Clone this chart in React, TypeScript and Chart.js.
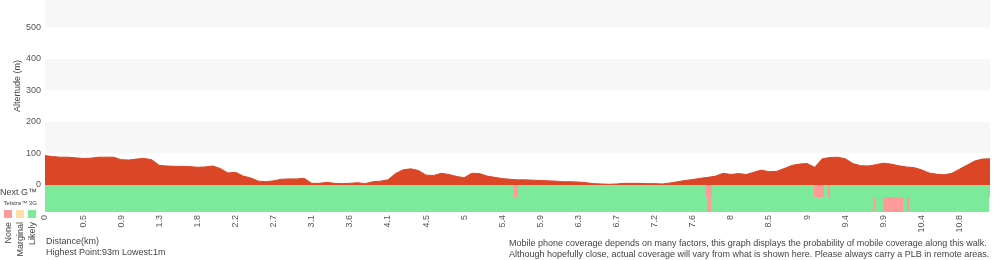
import React, { useEffect, useRef } from 'react';
import { Chart, registerables } from 'chart.js';

Chart.register(...registerables);

const FONT = '"Liberation Sans", Arial, Helvetica, sans-serif';

// Distance tick labels (km), one every `samplesPerTick` samples
const distanceTicks = ['0', '0.5', '0.9', '1.3', '1.8', '2.2', '2.7', '3.1', '3.6', '4.1', '4.5', '5', '5.4', '5.9', '6.3', '6.7', '7.2', '7.6', '8', '8.5', '9', '9.4', '9.9', '10.4', '10.8'];
const samplesPerTick = 5;

// Elevation (m) per sample
const elevation = [
  93, 90, 88, 88, 86, 84, 85, 88, 88, 88,
  80, 79, 82, 84, 80, 62, 60, 59, 59, 58,
  56, 57, 60, 52, 38, 40, 28, 22, 12, 10,
  13, 18, 19, 19, 21, 5, 5, 8, 5, 4,
  5, 7, 4, 10, 12, 16, 36, 48, 51, 46,
  31, 30, 37, 33, 27, 23, 37, 36, 28, 24,
  20, 18, 16, 16, 15, 14, 13, 12, 10, 10,
  9, 7, 4, 3, 2, 3, 5, 5, 5, 4,
  4, 3, 6, 10, 14, 17, 21, 24, 28, 37,
  33, 36, 33, 40, 47, 42, 43, 52, 62, 66,
  68, 56, 83, 87, 88, 83, 68, 61, 60, 64,
  69, 66, 61, 57, 55, 48, 38, 34, 32, 37,
  50, 63, 76, 82, 83,
];

const yTicks = [0, 100, 200, 300, 400, 500];
const shadedBands = [[100, 200], [300, 400], [500, 600]];

// Coverage (in sample units): extents of each row and the stretches with no coverage
const nextGExtent = [0, 124];
const threeGExtent = [0, 123.9];
const nextGNone = [[61.5, 62.1], [86.7, 87.5], [100.9, 102.2], [102.7, 103.0]];
const threeGNone = [[86.9, 87.4], [108.7, 109.0], [110.0, 112.6], [113.1, 113.4]];

// layout / style constants
const Y_MIN = -86;
const Y_MAX = 587;
const ROW_NEXTG = [0, -38];
const ROW_3G = [-38, -86];
const COLORS = {
  elevation: 'rgb(218,70,38)',
  likely: 'rgb(125,234,155)',
  none: 'rgb(255,154,154)',
  marginal: 'rgb(255,224,168)',
  band: '#f7f7f7',
  tick: '#555',
  text: '#444',
};

function rowDataset(range: number[], row: number[], color: string, order: number) {
  return {
    type: 'line' as const,
    data: [
      { x: range[0], y: row[0] },
      { x: range[1], y: row[0] },
    ],
    fill: { value: row[1] },
    backgroundColor: color,
    borderColor: 'transparent',
    borderWidth: 0,
    pointRadius: 0,
    tension: 0,
    order,
  };
}

const bandsPlugin = {
  id: 'bands',
  beforeDatasetsDraw(chart: any) {
    const { ctx, chartArea, scales } = chart;
    const y = scales.y;
    ctx.save();
    ctx.beginPath();
    ctx.rect(chartArea.left, chartArea.top, chartArea.right - chartArea.left, chartArea.bottom - chartArea.top);
    ctx.clip();
    ctx.fillStyle = COLORS.band;
    shadedBands.forEach(([lo, hi]) => {
      const top = y.getPixelForValue(hi);
      const bottom = y.getPixelForValue(lo);
      ctx.fillRect(chartArea.left, top, chartArea.right - chartArea.left, bottom - top);
    });
    ctx.restore();
  },
};

export default function App() {
  const ref = useRef<HTMLCanvasElement>(null);

  useEffect(() => {
    if (!ref.current) return;
    const datasets: any[] = [];
    nextGNone.forEach((r) => datasets.push(rowDataset(r, ROW_NEXTG, COLORS.none, 0)));
    threeGNone.forEach((r) => datasets.push(rowDataset(r, ROW_3G, COLORS.none, 0)));
    datasets.push({
      type: 'line',
      data: elevation.map((v, i) => ({ x: i, y: v })),
      fill: 'origin',
      backgroundColor: COLORS.elevation,
      borderColor: COLORS.elevation,
      borderWidth: 1,
      pointRadius: 0,
      tension: 0,
      order: 1,
    });
    datasets.push(rowDataset(nextGExtent, ROW_NEXTG, COLORS.likely, 2));
    datasets.push(rowDataset(threeGExtent, ROW_3G, COLORS.likely, 2));

    const chart = new Chart(ref.current, {
      type: 'line',
      data: { datasets },
      plugins: [bandsPlugin],
      options: {
        animation: false,
        responsive: false,
        devicePixelRatio: 1,
        events: [],
        layout: { padding: { left: 0, right: 10, top: 0, bottom: 0 } },
        plugins: {
          legend: { display: false },
          tooltip: { enabled: false },
        },
        scales: {
          x: {
            type: 'linear',
            min: 0,
            max: elevation.length - 1,
            grid: { display: false, drawTicks: false },
            border: { display: false },
            afterBuildTicks: (s: any) => {
              s.ticks = distanceTicks.map((_, i) => ({ value: i * samplesPerTick }));
            },
            afterFit: (s: any) => {
              s.height = 48;
              s.paddingLeft = 0;
              s.paddingRight = 0;
              s.paddingTop = 0;
              s.paddingBottom = 0;
            },
            ticks: {
              autoSkip: false,
              minRotation: 90,
              maxRotation: 90,
              padding: 3,
              color: COLORS.tick,
              font: { size: 9, family: FONT },
              callback: (v: any) => distanceTicks[Math.round(Number(v) / samplesPerTick)],
            },
          },
          y: {
            type: 'linear',
            min: Y_MIN,
            max: Y_MAX,
            grid: { display: false, drawTicks: false },
            border: { display: false },
            afterBuildTicks: (s: any) => {
              s.ticks = yTicks.map((v) => ({ value: v }));
            },
            afterFit: (s: any) => {
              s.width = 45;
              s.paddingLeft = 0;
              s.paddingRight = 0;
              s.paddingTop = 0;
              s.paddingBottom = 0;
            },
            ticks: {
              padding: 4,
              color: COLORS.tick,
              font: { size: 9, family: FONT },
            },
          },
        },
      },
    } as any);
    return () => chart.destroy();
  }, []);

  const rot: React.CSSProperties = {
    position: 'absolute',
    writingMode: 'vertical-rl',
    transform: 'rotate(180deg)',
    whiteSpace: 'nowrap',
    fontSize: 9,
    lineHeight: '11px',
    color: COLORS.text,
  };
  const sq = (left: number, color: string): React.CSSProperties => ({
    position: 'absolute',
    left,
    top: 210,
    width: 8,
    height: 8,
    background: color,
  });

  return (
    <div style={{ position: 'absolute', left: 0, top: 0, width: 1000, height: 260, fontFamily: FONT, background: '#fff', overflow: 'hidden' }}>
      <canvas ref={ref} width={1000} height={260} style={{ position: 'absolute', left: 0, top: 0, width: 1000, height: 260 }} />
      <div style={{ ...rot, left: 11.5, top: 60 }}>Altertude (m)</div>
      <div style={{ position: 'absolute', left: 0, top: 187, fontSize: 9, lineHeight: '11px', color: COLORS.text, whiteSpace: 'nowrap' }}>Next G™</div>
      <div style={{ position: 'absolute', left: 3.5, top: 200, fontSize: 6, lineHeight: '7px', color: COLORS.text, whiteSpace: 'nowrap' }}>Telstra™ 3G</div>
      <div style={sq(4, COLORS.none)} />
      <div style={sq(16, COLORS.marginal)} />
      <div style={sq(28, COLORS.likely)} />
      <div style={{ ...rot, left: 2.5, top: 222 }}>None</div>
      <div style={{ ...rot, left: 14.5, top: 222 }}>Marginal</div>
      <div style={{ ...rot, left: 26.5, top: 222 }}>Likely</div>
      <div style={{ position: 'absolute', left: 46, top: 236, fontSize: 9, lineHeight: '11px', color: COLORS.text, whiteSpace: 'nowrap' }}>
        Distance(km)<br />Highest Point:93m Lowest:1m
      </div>
      <div style={{ position: 'absolute', left: 509, top: 237.5, fontSize: 9, lineHeight: '11px', color: COLORS.text, whiteSpace: 'nowrap' }}>
        Mobile phone coverage depends on many factors, this graph displays the probability of mobile coverage along this walk.<br />
        Although hopefully close, actual coverage will vary from what is shown here. Please always carry a PLB in remote areas.
      </div>
    </div>
  );
}
